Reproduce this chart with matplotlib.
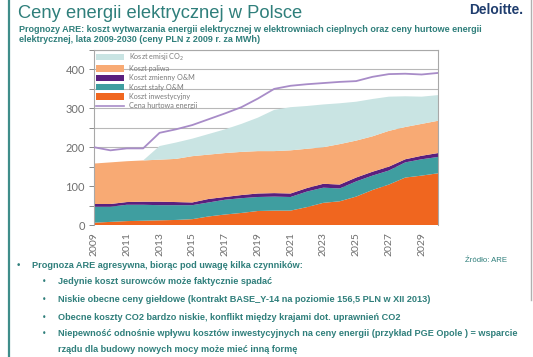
"""
Slide: Ceny energii elektrycznej w Polsce (ARE forecast, stacked cost areas + wholesale price line).
"""
import matplotlib
matplotlib.use("Agg")
import matplotlib.pyplot as plt
from matplotlib.patches import Patch
from matplotlib.lines import Line2D

# ─── data (PLN 2009 / MWh) ──────────────────────────────────────────
years = list(range(2009, 2031))
koszt_inwestycyjny = [6, 8, 10, 11, 12, 13, 15, 22, 27, 31, 36, 37, 37, 46, 57, 61, 73, 90, 104, 122, 127, 133]
koszt_staly_om = [41, 39, 42, 41, 39, 38, 36, 36, 38, 38, 36, 36, 35, 40, 39, 33, 39, 37, 36, 39, 42, 42]
koszt_zmienny_om = [7, 7, 7, 8, 9, 8, 7, 9, 7, 8, 9, 9, 9, 9, 10, 10, 10, 10, 10, 8, 9, 10]
koszt_paliwa = [104, 107, 105, 106, 108, 111, 119, 114, 113, 111, 109, 108, 111, 101, 94, 104, 95, 91, 92, 83, 82, 83]
koszt_emisji_co2 = [0, 0, 0, 0, 35, 42, 45, 53, 61, 72, 86, 106, 111, 110, 110, 105, 100, 96, 88, 79, 70, 66]
cena_hurtowa = [200, 192, 197, 197, 237, 246, 257, 272, 287, 303, 325, 350, 358, 362, 365, 368, 370, 381, 388, 389, 387, 391]

series_labels = ["Koszt inwestycyjny", "Koszt stały O&M", "Koszt zmienny O&M", "Koszt paliwa", "Koszt emisji CO$_2$"]
line_label = "Cena hurtowa energii"
y_ticks = list(range(0, 451, 50))
x_ticks = list(range(2009, 2030, 2))

# ─── palette ────────────────────────────────────────────────────────
CLR_INW = "#f0661f"
CLR_STALY = "#3f9ea0"
CLR_ZMIENNY = "#5a1f7e"
CLR_PALIWA = "#f8aa74"
CLR_CO2 = "#c9e4e3"
CLR_LINE = "#a88cc8"
CLR_TEAL = "#2f7f7b"
CLR_AXIS = "#8a8a8a"
CLR_GRID = "#b8b8b8"

W, H = 533, 357
fig = plt.figure(figsize=(W / 100, H / 100), dpi=100)
fig.patch.set_facecolor("white")

# slide layer in pixel coordinates
slide = fig.add_axes([0, 0, 1, 1])
slide.set_xlim(0, W)
slide.set_ylim(H, 0)
slide.set_axis_off()

slide.plot([8.5, 8.5], [0, H], color="#3f8d8a", lw=1.6)
slide.plot([530.5, 530.5], [0, 300], color="#b0b0b0", lw=1.0)

slide.text(18, 14, "Ceny energii elektrycznej w Polsce", ha="left", va="center",
           fontsize=13.2, color=CLR_TEAL, family="Liberation Sans")
slide.text(469, 10, "Deloitte.", ha="left", va="center", fontsize=9.9,
           fontweight="bold", color="#1f3d6e", family="Liberation Sans")

sub_kw = dict(ha="left", va="center", fontsize=6.5, fontweight="bold",
              color=CLR_TEAL, family="Liberation Sans")
slide.text(19, 29, "Prognozy ARE: koszt wytwarzania energii elektrycznej w elektrowniach cieplnych oraz ceny hurtowe energii", **sub_kw)
slide.text(19, 40, "elektrycznej, lata 2009-2030 (ceny PLN z 2009 r. za MWh)", **sub_kw)

slide.text(465, 261, "Źródło: ARE", ha="left", va="center", fontsize=5.6,
           color=CLR_TEAL, family="Liberation Sans")

bul_kw = dict(ha="left", va="center", fontsize=6.55, fontweight="bold",
              color=CLR_TEAL, family="Liberation Sans")
slide.text(16, 265, "•", ha="left", va="center", fontsize=6.5, color=CLR_TEAL)
slide.text(32, 265, "Prognoza ARE agresywna, biorąc pod uwagę kilka czynników:", **bul_kw)
sub_bullets = [
    (282, "Jedynie koszt surowców może faktycznie spadać"),
    (299, "Niskie obecne ceny giełdowe (kontrakt BASE_Y-14 na poziomie 156,5 PLN w XII 2013)"),
    (317, "Obecne koszty CO2 bardzo niskie, konflikt między krajami dot. uprawnień CO2"),
    (333, "Niepewność odnośnie wpływu kosztów inwestycyjnych na ceny energii (przykład PGE Opole ) = wsparcie"),
]
for y, txt in sub_bullets:
    slide.text(42, y, "•", ha="left", va="center", fontsize=5.5, color=CLR_TEAL)
    slide.text(58, y, txt, **bul_kw)
slide.text(58, 349, "rządu dla budowy nowych mocy może mieć inną formę", **bul_kw)

# ─── chart ──────────────────────────────────────────────────────────
left, right, top, bottom = 94, 438, 50, 225
ax = fig.add_axes([left / W, (H - bottom) / H, (right - left) / W, (bottom - top) / H])
ax.set_facecolor("white")

ax.stackplot(years, koszt_inwestycyjny, koszt_staly_om, koszt_zmienny_om,
             koszt_paliwa, koszt_emisji_co2,
             colors=[CLR_INW, CLR_STALY, CLR_ZMIENNY, CLR_PALIWA, CLR_CO2],
             linewidth=0, zorder=2)
ax.plot(years, cena_hurtowa, color=CLR_LINE, lw=1.3, zorder=3)

ax.set_xlim(2009, 2030)
ax.set_ylim(0, 437.5)
ax.set_yticks(y_ticks)
ax.set_yticklabels([str(v) if v % 100 == 0 else "" for v in y_ticks])
ax.set_xticks(x_ticks)
ax.set_xticklabels([str(v) for v in x_ticks], rotation=90)
ax.tick_params(axis="y", length=3.5, width=0.7, color=CLR_AXIS, pad=3,
               labelsize=8, labelcolor="#6f6f6f")
ax.tick_params(axis="x", length=0, pad=5, labelsize=7.5, labelcolor="#6f6f6f")
for lab in ax.get_xticklabels() + ax.get_yticklabels():
    lab.set_family("Lato")
ax.yaxis.grid(True, color=CLR_GRID, lw=0.8, zorder=0)
ax.set_axisbelow(True)
for side in ["left", "top", "right"]:
    ax.spines[side].set_color("#a8a8a8")
    ax.spines[side].set_linewidth(0.8)
ax.spines["bottom"].set_visible(False)

handles = [
    Patch(facecolor=CLR_CO2, label=series_labels[4]),
    Patch(facecolor=CLR_PALIWA, label=series_labels[3]),
    Patch(facecolor=CLR_ZMIENNY, label=series_labels[2]),
    Patch(facecolor=CLR_STALY, label=series_labels[1]),
    Patch(facecolor=CLR_INW, label=series_labels[0]),
    Line2D([0], [0], color=CLR_LINE, lw=1.2, label=line_label),
]
leg = ax.legend(handles=handles, loc="upper left", bbox_to_anchor=(0.005, 0.995),
                frameon=False, handlelength=3.8, handleheight=1.0,
                labelspacing=0.32, handletextpad=0.7, borderpad=0.1,
                borderaxespad=0, prop={"family": "Lato", "size": 5.2})
for t in leg.get_texts():
    t.set_color("#7a7a7a")

fig.savefig("out.png", dpi=100, facecolor="white")
